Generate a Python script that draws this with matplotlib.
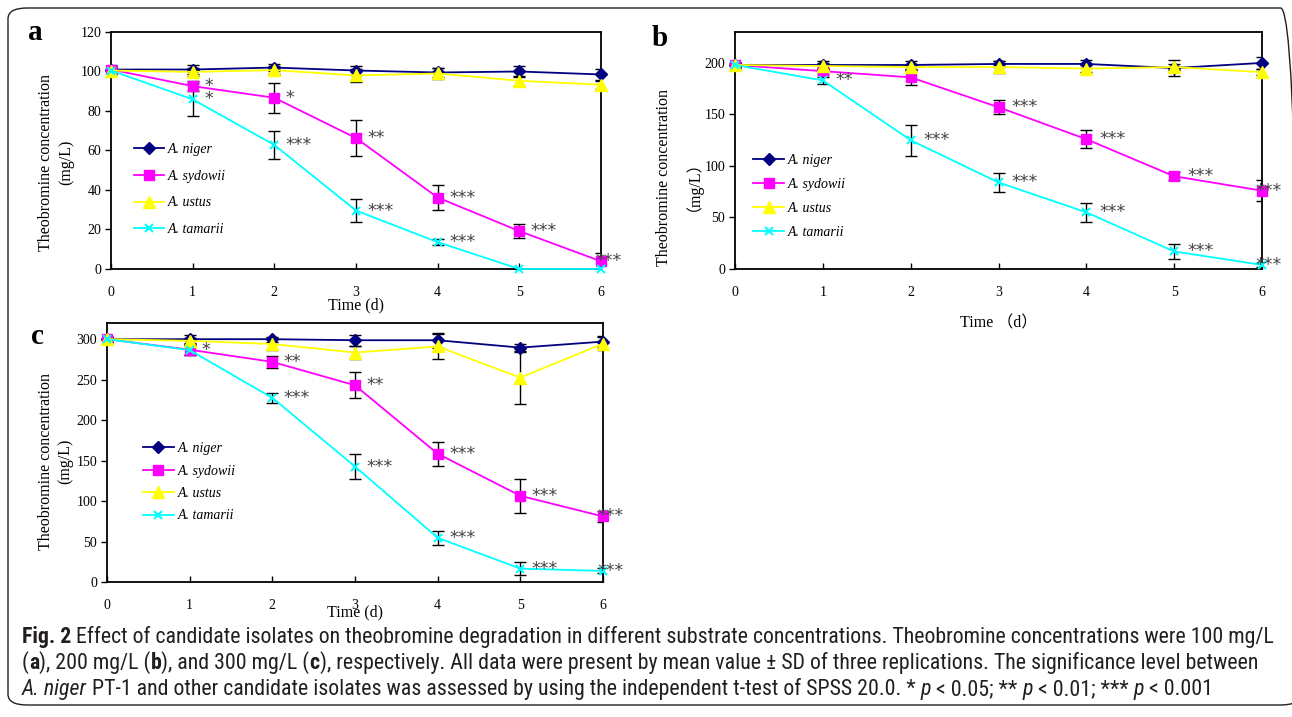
import matplotlib
matplotlib.use("Agg")
import matplotlib.pyplot as plt
from matplotlib import font_manager as fm
from matplotlib.patches import FancyBboxPatch

# ---------------- data ----------------
days = [0, 1, 2, 3, 4, 5, 6]
strains = ["A. niger", "A. sydowii", "A. ustus", "A. tamarii"]

# panel a (100 mg/L)
niger_a = [101, 101, 102, 100.5, 99.5, 100, 98.5]
niger_a_err = [2.5, 2.5, 2, 2.5, 2.5, 3, 3]
sydowii_a = [101, 92.6, 86.7, 66.3, 36.2, 19.2, 3.9]
sydowii_a_err = [2, 2.5, 7.7, 9.3, 6.5, 3.6, 4]
ustus_a = [100.5, 99.8, 100.7, 98, 99, 95.3, 93.3]
ustus_a_err = [2, 2, 2, 3.5, 3, 2.5, 2]
tamarii_a = [100.5, 85.9, 62.8, 29.6, 13.6, 0, 0]
tamarii_a_err = [1.5, 8.5, 7, 6, 1.5, 0, 0]
sig_sydowii_a = ["", "*", "*", "**", "***", "***", "***"]
sig_tamarii_a = ["", "*", "***", "***", "***", "", ""]

# panel b (200 mg/L)
niger_b = [198, 198, 198, 199, 199, 195, 200]
niger_b_err = [3, 4, 4, 3, 4, 8, 6]
sydowii_b = [198, 192, 186, 157, 126, 90, 76]
sydowii_b_err = [2, 3, 7, 7, 9, 4, 10]
ustus_b = [198, 197, 196, 196, 194.5, 196, 191]
ustus_b_err = [2, 3, 3, 6, 3, 3, 3]
tamarii_b = [198, 183, 125, 84, 55, 17, 4]
tamarii_b_err = [2, 3, 15, 9.5, 9.5, 7.5, 2]
sig_sydowii_b = ["", "", "", "***", "***", "***", "***"]
sig_tamarii_b = ["", "**", "***", "***", "***", "***", "***"]

# panel c (300 mg/L)
niger_c = [300, 300, 300, 298.7, 298.7, 289.6, 297]
niger_c_err = [3, 5, 3, 7, 9, 5, 7]
sydowii_c = [300, 287, 272, 243, 158.5, 106.5, 81]
sydowii_c_err = [3, 6, 7, 16, 15, 21, 7]
ustus_c = [300, 298, 294, 283.5, 291, 252.5, 294.5]
ustus_c_err = [3, 4, 7, 8, 16, 33, 8]
tamarii_c = [300, 286.5, 227.5, 142.7, 54.6, 16.5, 13.7]
tamarii_c_err = [3, 6, 6, 15, 8.5, 8, 3]
sig_sydowii_c = ["", "*", "**", "**", "***", "***", "***"]
sig_tamarii_c = ["", "", "***", "***", "***", "***", "***"]

# caption runs: (text, style, weight)
caption_line1 = [("Fig. 2", "normal", "bold"),
                 (" Effect of candidate isolates on theobromine degradation in different substrate concentrations. Theobromine concentrations were 100 mg/L", "normal", "normal")]
caption_line2 = [("(", "normal", "normal"), ("a", "normal", "bold"),
                 ("), 200 mg/L (", "normal", "normal"), ("b", "normal", "bold"),
                 ("), and 300 mg/L (", "normal", "normal"), ("c", "normal", "bold"),
                 ("), respectively. All data were present by mean value ± SD of three replications. The significance level between", "normal", "normal")]
caption_line3 = [("A. niger", "italic", "normal"),
                 (" PT-1 and other candidate isolates was assessed by using the independent t-test of SPSS 20.0. * ", "normal", "normal"),
                 ("p", "italic", "normal"), (" < 0.05; ** ", "normal", "normal"),
                 ("p", "italic", "normal"), (" < 0.01; *** ", "normal", "normal"),
                 ("p", "italic", "normal"), (" < 0.001", "normal", "normal")]

# ---------------- fonts ----------------
names = {f.name for f in fm.fontManager.ttflist}
def pick(cands):
    for c in cands:
        if c in names:
            return c
    return "DejaVu Sans"

SERIF = pick(["Liberation Serif", "DejaVu Serif"])
CAP = pick(["Liberation Sans Narrow", "Roboto Condensed", "Open Sans Condensed", "Liberation Sans", "DejaVu Sans"])
plt.rcParams["font.family"] = [SERIF, "Noto Sans CJK SC", "DejaVu Sans"]

W, H = 1292, 717
fig = plt.figure(figsize=(W / 100, H / 100), dpi=100)

def add_axes_px(l, t, r, b):
    return fig.add_axes([l / W, 1 - b / H, (r - l) / W, (b - t) / H])

colors = ["#000080", "#FF00FF", "#FFFF00", "#00FFFF"]
markers = ["D", "s", "^", "x"]
msizes = [6, 7, 8, 6]

def panel(ax, series, errs, sigs, ymax, yticks, ylabel, xlabel, labelpad,
          ylab_coords, leg_anchor, leg_spacing, dx):
    for vals, err in zip(series, errs):
        ax.errorbar(days, vals, yerr=err, fmt="none", ecolor="black",
                    elinewidth=1.0, capsize=4, capthick=1.0, zorder=3)
    handles = []
    for vals, c, m, ms, name in zip(series, colors, markers, msizes, strains):
        h, = ax.plot(days, vals, color=c, marker=m, markersize=ms,
                     markeredgecolor=c, markeredgewidth=1.5 if m == "x" else 1,
                     linewidth=1.3, label=name, zorder=4, clip_on=False)
        handles.append(h)
    for vals, labels in sigs:
        for x, v, s in zip(days, vals, labels):
            if s:
                off = dx if x < 6 else -0.07
                ax.text(x + off, v, s, fontsize=12.5, color="#444444",
                        family="DejaVu Sans", ha="left", va="center", zorder=5)
    ax.set_xlim(0, 6)
    ax.set_ylim(0, ymax)
    ax.set_xticks(days)
    ax.set_yticks(yticks)
    ax.tick_params(axis="x", direction="in", length=4, width=1, labelsize=10, pad=12)
    ax.tick_params(axis="y", direction="out", length=4, width=1, labelsize=10, pad=3)
    for sp in ax.spines.values():
        sp.set_linewidth(1.3)
    ax.set_ylabel(ylabel, fontsize=11.5, multialignment="center", linespacing=1.3)
    ax.yaxis.set_label_coords(*ylab_coords)
    ax.set_xlabel(xlabel, fontsize=11.5, labelpad=labelpad)
    ax.legend(handles=handles, loc="upper left", bbox_to_anchor=leg_anchor,
              frameon=False, borderpad=0, borderaxespad=0, numpoints=1,
              handlelength=2.2, handletextpad=0.3, labelspacing=leg_spacing,
              prop={"family": SERIF, "style": "italic", "size": 10})

# panel a
ax_a = add_axes_px(111, 32, 601, 269)
panel(ax_a,
      [niger_a, sydowii_a, ustus_a, tamarii_a],
      [niger_a_err, sydowii_a_err, ustus_a_err, tamarii_a_err],
      [(sydowii_a, sig_sydowii_a), (tamarii_a, sig_tamarii_a)],
      120, [0, 20, 40, 60, 80, 100, 120],
      "Theobromine concentration\n(mg/L)", "Time (d)", -1,
      (-0.076, 0.45), (0.046, 0.533), 1.0, 0.14)

# panel b
ax_b = add_axes_px(735, 32, 1262, 269)
panel(ax_b,
      [niger_b, sydowii_b, ustus_b, tamarii_b],
      [niger_b_err, sydowii_b_err, ustus_b_err, tamarii_b_err],
      [(sydowii_b, sig_sydowii_b), (tamarii_b, sig_tamarii_b)],
      230, [0, 50, 100, 150, 200],
      "Theobromine concentration\n（mg/L）", "Time （d）", 12,
      (-0.078, 0.384), (0.035, 0.485), 0.79, 0.147)

# panel c
ax_c = add_axes_px(107, 323, 603, 582)
panel(ax_c,
      [niger_c, sydowii_c, ustus_c, tamarii_c],
      [niger_c_err, sydowii_c_err, ustus_c_err, tamarii_c_err],
      [(sydowii_c, sig_sydowii_c), (tamarii_c, sig_tamarii_c)],
      320, [0, 50, 100, 150, 200, 250, 300],
      "Theobromine concentration\n(mg/L)", "Time (d)", -5,
      (-0.068, 0.467), (0.0726, 0.54), 0.68, 0.14)

# panel letters
for lbl, px, py in [("a", 35, 33), ("b", 660, 38), ("c", 37, 337)]:
    fig.text(px / W, 1 - py / H, lbl, fontsize=21, fontweight="bold",
             family=SERIF, ha="center", va="center")

# outer rounded frame
box = FancyBboxPatch((8 / W, 12 / H), (1300 - 8) / W, (709 - 12) / H,
                     boxstyle="round,pad=0,rounding_size=0.015",
                     transform=fig.transFigure, fill=False,
                     edgecolor="#231f20", linewidth=1.0, clip_on=False)
fig.patches.append(box)

# caption, drawn run by run
renderer = fig.canvas.get_renderer()

def draw_runs(runs, x0, y, size):
    x = x0
    for txt, style, weight in runs:
        t = fig.text(x / W, 1 - y / H, txt, fontsize=size, family=CAP,
                     style=style, weight=weight, color="#231f20",
                     ha="left", va="baseline")
        bb = t.get_window_extent(renderer)
        x += bb.width
    return x

# fit line 1 to the reference width (22 -> 1277 px)
probe = fig.text(0, 0, "".join(r[0] for r in caption_line1), fontsize=15, family=CAP)
pw = probe.get_window_extent(renderer).width
probe.remove()
cap_size = 15 * (1277 - 22) / pw
cap_size = min(cap_size, 16)

for runs, yb in zip([caption_line1, caption_line2, caption_line3], [643, 669, 695]):
    draw_runs(runs, 22, yb, cap_size)

fig.savefig("out.png", dpi=100)
